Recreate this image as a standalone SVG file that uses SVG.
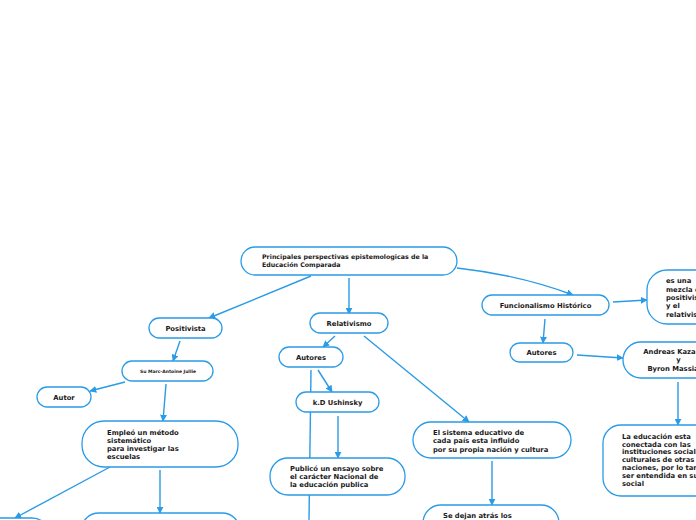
<svg xmlns="http://www.w3.org/2000/svg" width="696" height="520" viewBox="0 0 696 520">
<defs>
<marker id="ah" viewBox="0 0 10 10" refX="9" refY="5" markerWidth="7" markerHeight="7" markerUnits="userSpaceOnUse" orient="auto">
<path d="M0,0 L10,5 L0,10 Z" fill="#2a9be6"/>
</marker>
<style>
.n rect{fill:#fff;stroke:#2a9be6;stroke-width:1.3}
.t{font-family:"DejaVu Sans",Verdana,sans-serif;font-weight:bold;font-size:6.8px;fill:#1a1a1a}
.c{text-anchor:middle}
#edges path{fill:none;stroke:#2a9be6;stroke-width:1.4}
.a{marker-end:url(#ah)}
</style>
</defs>
<rect width="696" height="520" fill="#fff"/>
<g id="edges">
<path class="a" d="M311,276 L209,318"/>
<path class="a" d="M349,278 L349,314"/>
<path class="a" d="M457,268 Q520,275 573,295"/>
<path class="a" d="M180,341 L173,361"/>
<path class="a" d="M125,382 L90,391"/>
<path class="a" d="M166,384 L163,421"/>
<path class="a" d="M110,467 L15,518"/>
<path class="a" d="M160,470 L160,513"/>
<path class="a" d="M335,336 L323,347"/>
<path class="a" d="M318,370 L332,392"/>
<path d="M311,370 L309,520"/>
<path class="a" d="M338,416 L338,458"/>
<path class="a" d="M364,336 L469,422"/>
<path class="a" d="M492,461 L492,505"/>
<path class="a" d="M613,302 L647,300"/>
<path class="a" d="M545,319 L543,343"/>
<path class="a" d="M577,355 L623,358"/>
<path class="a" d="M678,382 L678,425"/>
</g>
<g id="root" class="n">
<rect x="241" y="247" width="216" height="28" rx="14"/>
<text class="t" style="font-size:6.3px" x="262" y="259">Principales perspectivas epistemologicas de la</text>
<text class="t" style="font-size:6.3px" x="262" y="266.5">Educación Comparada</text>
</g>
<g id="positivista" class="n">
<rect x="149" y="318" width="73" height="20" rx="10"/>
<text class="t c" x="185.5" y="330.5">Positivista</text>
</g>
<g id="jullie" class="n">
<rect x="122" y="361" width="91" height="20" rx="10"/>
<text class="t c" style="font-size:4.5px" x="168" y="372.6">Su Marc-Antoine Jullie</text>
</g>
<g id="autor" class="n">
<rect x="37" y="387" width="54" height="20" rx="10"/>
<text class="t c" x="64" y="399.5">Autor</text>
</g>
<g id="empleo" class="n">
<rect x="82" y="421" width="156" height="46" rx="22"/>
<text class="t" x="107" y="434.5">Empleó un método</text>
<text class="t" x="107" y="442.8">sistemático</text>
<text class="t" x="107" y="451.1">para investigar las</text>
<text class="t" x="107" y="459.4">escuelas</text>
</g>
<g id="bottom-left" class="n">
<rect x="-60" y="518" width="110" height="40" rx="18"/>
</g>
<g id="bottom-mid" class="n">
<rect x="81" y="513" width="159" height="40" rx="18"/>
</g>
<g id="relativismo" class="n">
<rect x="310" y="313" width="78" height="20" rx="10"/>
<text class="t c" x="349" y="325.5">Relativismo</text>
</g>
<g id="autores-rel" class="n">
<rect x="279" y="347" width="64" height="20" rx="10"/>
<text class="t c" x="311" y="359.5">Autores</text>
</g>
<g id="ushinsky" class="n">
<rect x="296" y="392" width="83" height="20" rx="10"/>
<text class="t c" x="337.5" y="404.5">k.D Ushinsky</text>
</g>
<g id="publico" class="n">
<rect x="270" y="458" width="135" height="37" rx="18"/>
<text class="t" x="290" y="470.7">Publicó un ensayo sobre</text>
<text class="t" x="290" y="479">el carácter Nacional de</text>
<text class="t" x="290" y="487.4">la educación publica</text>
</g>
<g id="sistema" class="n">
<rect x="413" y="422" width="158" height="36" rx="18"/>
<text class="t" x="433" y="434.8">El sistema educativo de</text>
<text class="t" x="433" y="443.2">cada país esta influido</text>
<text class="t" x="433" y="451.5">por su propia nación y cultura</text>
</g>
<g id="sedejan" class="n">
<rect x="423" y="505" width="136" height="40" rx="18"/>
<text class="t" x="443" y="518">Se dejan atrás los</text>
</g>
<g id="funcionalismo" class="n">
<rect x="482" y="295" width="127" height="20" rx="10"/>
<text class="t c" x="545.5" y="307.5">Funcionalismo Histórico</text>
</g>
<g id="mezcla" class="n">
<rect x="647" y="270" width="90" height="54" rx="20"/>
<text class="t" x="666" y="283">es una</text>
<text class="t" x="666" y="291.5">mezcla de</text>
<text class="t" x="666" y="300">positivismo</text>
<text class="t" x="666" y="308.4">y el</text>
<text class="t" x="666" y="316.8">relativismo</text>
</g>
<g id="autores-fun" class="n">
<rect x="510" y="343" width="63" height="19" rx="9.5"/>
<text class="t c" x="541.5" y="355">Autores</text>
</g>
<g id="andreas" class="n">
<rect x="623" y="342" width="120" height="36" rx="18"/>
<text class="t c" x="678.5" y="353.6">Andreas Kazamias</text>
<text class="t c" x="678.5" y="362.3">y</text>
<text class="t c" x="678.5" y="371">Byron Massialas</text>
</g>
<g id="educacion" class="n">
<rect x="603" y="425" width="140" height="71" rx="18"/>
<text class="t" x="622" y="438.5">La educación esta</text>
<text class="t" x="622" y="446.5">conectada con las</text>
<text class="t" x="622" y="454.4">instituciones sociales y</text>
<text class="t" x="622" y="462.3">culturales de otras</text>
<text class="t" x="622" y="470.2">naciones, por lo tanto debe</text>
<text class="t" x="622" y="478.2">ser entendida en su contexto</text>
<text class="t" x="622" y="486.4">social</text>
</g>
</svg>
